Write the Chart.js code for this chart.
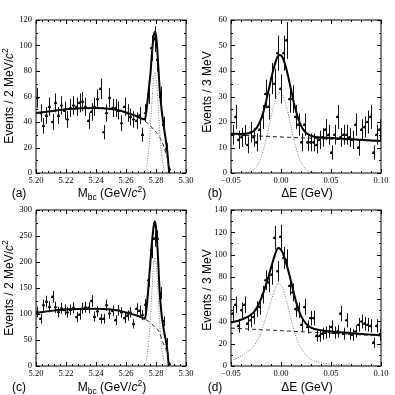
<!DOCTYPE html>
<html><head><meta charset="utf-8">
<script src="https://cdn.jsdelivr.net/npm/chart.js@4.4.0/dist/chart.umd.min.js"></script>
<style>
html,body{margin:0;padding:0;background:#fff;}
#wrap{position:relative;width:395px;height:395px;overflow:hidden;background:#fff;}
canvas{position:absolute;left:0;top:0;}
.t{position:absolute;font-family:"Liberation Sans",Arial,sans-serif;font-size:12px;color:#000;white-space:nowrap;line-height:1;transform:translate(-50%,-50%);}
.r{transform:translate(-50%,-50%) rotate(-90deg);}
.sub{font-size:8.5px;position:relative;top:3px;}
.sup{font-size:8.5px;position:relative;top:-5px;}
</style></head><body>
<div id="wrap">
<canvas id="ca" width="395" height="395"></canvas>
<canvas id="cb" width="395" height="395"></canvas>
<canvas id="cc" width="395" height="395"></canvas>
<canvas id="cd" width="395" height="395"></canvas>
<div class="t" style="left:19px;top:193px">(a)</div>
<div class="t" style="left:112px;top:193px">M<span class="sub">bc</span> (GeV/<i>c</i><span class="sup">2</span>)</div>
<div class="t r" style="left:9px;top:96px">Events / 2 MeV/<i>c</i><span class="sup">2</span></div>
<div class="t" style="left:215px;top:193px">(b)</div>
<div class="t" style="left:307px;top:193px">ΔE (GeV)</div>
<div class="t r" style="left:207px;top:92px">Events / 3 MeV</div>
<div class="t" style="left:19px;top:387px">(c)</div>
<div class="t" style="left:112px;top:387px">M<span class="sub">bc</span> (GeV/<i>c</i><span class="sup">2</span>)</div>
<div class="t r" style="left:9px;top:288px">Events / 2 MeV/<i>c</i><span class="sup">2</span></div>
<div class="t" style="left:215px;top:387px">(d)</div>
<div class="t" style="left:307px;top:387px">ΔE (GeV)</div>
<div class="t r" style="left:207px;top:290px">Events / 3 MeV</div>
</div>
<script>
// ---------- categories / bins ----------
const mbcBins = [5.201,5.203,5.205,5.207,5.209,5.211,5.213,5.215,5.217,5.219,5.221,5.223,5.225,5.227,5.229,5.231,5.233,5.235,5.237,5.239,5.241,5.243,5.245,5.247,5.249,5.251,5.253,5.255,5.257,5.259,5.261,5.263,5.265,5.267,5.269,5.271,5.273,5.275,5.277,5.279,5.281,5.283,5.285,5.287,5.289];
const deBins = [-0.0485,-0.0455,-0.0425,-0.0395,-0.0365,-0.0335,-0.0305,-0.0275,-0.0245,-0.0215,-0.0185,-0.0155,-0.0125,-0.0095,-0.0065,-0.0035,-0.0005,0.0025,0.0055,0.0085,0.0115,0.0145,0.0175,0.0205,0.0235,0.0265,0.0295,0.0325,0.0355,0.0385,0.0415,0.0445,0.0475,0.0505,0.0535,0.0565,0.0595,0.0625,0.0655,0.0685,0.0715,0.0745,0.0775,0.0805,0.0835,0.0865,0.0895,0.0925,0.0955,0.0985];

// ---------- panel (a) ----------
const countsA = [59,47,37,45,52,40,55,45,53,49,42,51,53,52,55,56,52,41,48,52,58,66,32,47,59,51,51,49,39,52,47,44,42,41,45,30,47,62,98,105,89,60,38,19,3];
const errA = [7.7,6.9,6.1,6.7,7.2,6.3,7.4,6.7,7.3,7.0,6.5,7.1,7.3,7.2,7.4,7.5,7.2,6.4,6.9,7.2,7.6,8.1,5.7,6.9,7.7,7.1,7.1,7.0,6.2,7.2,6.9,6.6,6.5,6.4,6.7,5.5,6.9,7.9,9.9,10.2,9.4,7.7,6.2,4.4,1.7];
const fitAx = [5.200,5.210,5.220,5.230,5.240,5.250,5.255,5.260,5.265,5.270,5.2727,5.2737,5.2747,5.2755,5.2763,5.2773,5.2781,5.2788,5.2794,5.2800,5.2807,5.2815,5.2827,5.2838,5.2849,5.2860,5.2871,5.2880,5.2888];
const fitAy = [47,48.5,50,50.8,51,50.2,49.2,47.5,45.5,43,42,50,60,69,78,94,104,109.5,111,108,100,84,62,49,39,30,21,11,0];
const bkgAx = [5.200,5.210,5.220,5.230,5.240,5.250,5.260,5.265,5.270,5.275,5.2785,5.282,5.2845,5.2865,5.2878,5.2885,5.2889];
const bkgAy = [47,48.5,50,50.8,51,50.2,47.5,45.5,42.5,38.5,34,29,23,16,10,5,0];
const sigAx = [5.2713,5.2733,5.2743,5.2753,5.2763,5.2773,5.2783,5.2793,5.2803,5.2813,5.2823,5.2833,5.2843,5.2853,5.2873];
const sigAy = [0.3,3.5,9,20,36,55,73,79,73,55,36,20,9,3.5,0.3];

// ---------- panel (c) ----------
const countsC = [104,91,117,124,114,133,113,104,111,108,103,108,112,94,99,111,113,112,125,95,105,91,91,117,101,106,88,107,103,92,97,103,81,110,106,98,118,165,222,245,245,140,86,47,4];
const errC = [10.2,9.5,10.8,11.1,10.7,11.5,10.6,10.2,10.5,10.4,10.1,10.4,10.6,9.7,9.9,10.5,10.6,10.6,11.2,9.7,10.2,9.5,9.5,10.8,10.0,10.3,9.4,10.3,10.1,9.6,9.8,10.1,9.0,10.5,10.3,9.9,10.9,12.8,14.9,15.7,15.7,11.8,9.3,6.9,2.0];
const fitCx = [5.200,5.210,5.220,5.230,5.240,5.250,5.255,5.260,5.265,5.270,5.2727,5.2737,5.2747,5.2755,5.2764,5.2772,5.2780,5.2786,5.2791,5.2797,5.2804,5.2814,5.2824,5.2835,5.2847,5.2858,5.2869,5.2878,5.2885];
const fitCy = [102,106,108.5,109.5,110,108.5,106.5,103,99,94,91,112,142,172,205,235,258,272,278,273,255,205,145,105,78,60,44,24,0];
const bkgCx = [5.200,5.210,5.220,5.230,5.240,5.250,5.260,5.265,5.270,5.275,5.2785,5.282,5.2845,5.2865,5.2878,5.2885,5.2889];
const bkgCy = [102,106,108.5,109.5,110,108.5,103,99,94,86,77,66,46,33,20,11,0];
const sigCx = [5.2713,5.2733,5.2743,5.2753,5.2763,5.2773,5.2783,5.2793,5.2803,5.2813,5.2823,5.2833,5.2843,5.2853,5.2873];
const sigCy = [0.8,9,24,52,95,145,192,208,192,145,95,52,24,9,0.8];

// ---------- panel (b) ----------
const countsB = [15,22,13,14,15,11,16,14,12,17,22,31,26,37,35,47,33,47,52,29,29,22,19,12,19,12,12,12,11,13,14,17,15,8,15,22,14,15,15,14,13,19,10,17,18,20,22,8,15,17];
const errB = [3.9,4.7,3.6,3.7,3.9,3.3,4.0,3.7,3.5,4.1,4.7,5.6,5.1,6.1,5.9,6.9,5.7,6.9,7.2,5.4,5.4,4.7,4.4,3.5,4.4,3.5,3.5,3.5,3.3,3.6,3.7,4.1,3.9,2.8,3.9,4.7,3.7,3.9,3.9,3.7,3.6,4.4,3.2,4.1,4.2,4.5,4.7,2.8,3.9,4.1];
const fitBx = [-0.050,-0.040,-0.032,-0.028,-0.024,-0.020,-0.016,-0.012,-0.008,-0.004,-0.001,0.002,0.006,0.010,0.014,0.018,0.022,0.026,0.030,0.035,0.050,0.075,0.100];
const fitBy = [15.4,15.3,15.6,16.3,17.9,21.1,26.3,33.1,40.0,45.1,46.3,45.0,39.8,32.7,25.7,20.5,17.2,15.4,14.6,14.1,13.7,13.1,12.5];
const bkgBx = [-0.050,0.100];
const bkgBy = [15.0,12.4];
const sigBx = [-0.045,-0.036,-0.032,-0.028,-0.024,-0.020,-0.016,-0.012,-0.008,-0.004,-0.001,0.002,0.006,0.010,0.014,0.018,0.022,0.026,0.030,0.034,0.043];
const sigBy = [0,0.1,0.4,1.1,2.85,6.1,11.3,18.2,25.2,30.3,31.5,30.3,25.2,18.2,11.3,6.1,2.85,1.1,0.4,0.1,0];

// ---------- panel (d) ----------
const countsD = [47,55,36,50,55,38,41,44,51,53,64,77,75,82,115,85,116,97,95,72,66,51,50,37,53,35,43,43,27,27,29,30,31,35,30,31,47,29,41,29,28,31,37,40,38,37,36,21,36,28];
const errD = [6.9,7.4,6.0,7.1,7.4,6.2,6.4,6.6,7.1,7.3,8.0,8.8,8.7,9.1,10.7,9.2,10.8,9.8,9.7,8.5,8.1,7.1,7.1,6.1,7.3,5.9,6.6,6.6,5.2,5.2,5.4,5.5,5.6,5.9,5.5,5.6,6.9,5.4,6.4,5.4,5.3,5.6,6.1,6.3,6.2,6.1,6.0,4.6,6.0,5.3];
const fitDx = [-0.050,-0.040,-0.030,-0.025,-0.020,-0.015,-0.010,-0.006,-0.0027,0.001,0.005,0.010,0.015,0.020,0.025,0.030,0.040,0.050,0.070,0.100];
const fitDy = [39,41.5,46,51,60,73,88,100,106,103,93,76,58,45,38,34.5,32,31,29.5,27.5];
const bkgDx = [-0.050,0.100];
const bkgDy = [34,27];
const sigDx = [-0.050,-0.045,-0.040,-0.035,-0.030,-0.025,-0.020,-0.015,-0.010,-0.006,-0.0027,0.001,0.005,0.010,0.015,0.020,0.025,0.030,0.040,0.050,0.060,0.080,0.100];
const sigDy = [5,6.5,9,12,15,21,30,44,58,69,74,71,60,42,26,16,10,6,3,1.8,1.2,0.5,0.2];

// ---------- tick labels ----------
const xTicksMbc = [5.20,5.22,5.24,5.26,5.28,5.30];
const xTicksDE = [-0.05,0.00,0.05,0.10];
const yTicksA = [0,20,40,60,80,100,120];
const yTicksB = [0,10,20,30,40,50,60];
const yTicksC = [0,50,100,150,200,250,300];
const yTicksD = [0,20,40,60,80,100,120,140];

function pts(xs, ys){ return xs.map((x,i)=>({x:x, y:ys[i]})); }

const hepPlugin = {
  id:'hep',
  afterDatasetsDraw(chart, args, o){
    const ctx = chart.ctx, a = chart.chartArea, sx = chart.scales.x, sy = chart.scales.y;
    const R = v => Math.round(v) + 0.5;
    ctx.save();
    ctx.beginPath(); ctx.rect(a.left, a.top, a.right-a.left, a.bottom-a.top); ctx.clip();
    ctx.strokeStyle = '#111'; ctx.lineWidth = 1;
    ctx.beginPath();
    o.bins.forEach((b,i)=>{
      const v = o.counts[i], e = o.errs[i];
      const px = R(sx.getPixelForValue(b));
      const py = R(sy.getPixelForValue(v));
      ctx.moveTo(px, sy.getPixelForValue(v+e)); ctx.lineTo(px, sy.getPixelForValue(v-e));
      ctx.moveTo(sx.getPixelForValue(b-o.half), py); ctx.lineTo(sx.getPixelForValue(b+o.half), py);
    });
    ctx.stroke();
    ctx.restore();
    // frame and inward ticks on four sides
    ctx.save();
    ctx.strokeStyle = '#000'; ctx.lineWidth = 1;
    const L = R(a.left)-0.5, Rt = R(a.right)-0.5, T = R(a.top)-0.5, B = R(a.bottom)-0.5;
    ctx.strokeRect(L, T, Rt-L, B-T);
    ctx.beginPath();
    const drawX = (v, len) => { const p = R(sx.getPixelForValue(v)); ctx.moveTo(p, B); ctx.lineTo(p, B-len); ctx.moveTo(p, T); ctx.lineTo(p, T+len); };
    const drawY = (v, len) => { const p = R(sy.getPixelForValue(v)); ctx.moveTo(L, p); ctx.lineTo(L+len, p); ctx.moveTo(Rt, p); ctx.lineTo(Rt-len, p); };
    const nx = Math.round((sx.max - sx.min)/o.xMinor);
    for (let k=0;k<=nx;k++) drawX(sx.min + k*o.xMinor, 2);
    const ny = Math.round((sy.max - sy.min)/o.yMinor);
    for (let k=0;k<=ny;k++) drawY(sy.min + k*o.yMinor, 2);
    o.xMajor.forEach(v=>drawX(v,4));
    o.yMajor.forEach(v=>drawY(v,4));
    ctx.stroke();
    ctx.restore();
  }
};

const tickFont = {family:'"Liberation Serif","Times New Roman",serif', size:8.5};

function makeChart(id, c){
  return new Chart(document.getElementById(id), {
    type:'scatter',
    data:{datasets:[
      {type:'line', data:pts(c.sigX,c.sigY), borderColor:'#7a7a7a', borderWidth:1, borderDash:[1,1.5], pointRadius:0, cubicInterpolationMode:'monotone', fill:false},
      {type:'line', data:pts(c.bkgX,c.bkgY), borderColor:'#222', borderWidth:1, borderDash:[4,3], pointRadius:0, cubicInterpolationMode:'monotone', fill:false},
      {type:'line', data:pts(c.fitX,c.fitY), borderColor:'#000', borderWidth:2, pointRadius:0, cubicInterpolationMode:'monotone', fill:false},
      {type:'scatter', data:pts(c.bins,c.counts), backgroundColor:'#000', borderColor:'#000', borderWidth:0, pointRadius:1.3}
    ]},
    options:{
      responsive:false, animation:false, devicePixelRatio:1,
      layout:{padding:c.pad},
      plugins:{legend:{display:false}, tooltip:{enabled:false},
        hep:{bins:c.bins, counts:c.counts, errs:c.errs, half:c.half, xMajor:c.xTicks, yMajor:c.yTicks, xMinor:c.xMinor, yMinor:c.yMinor}},
      scales:{
        x:{type:'linear', min:c.xTicks[0], max:c.xTicks[c.xTicks.length-1],
           grid:{display:false, drawTicks:false}, border:{display:false},
           afterBuildTicks:s=>{ s.ticks = c.xTicks.map(v=>({value:v})); },
           afterFit:s=>{ s.height = 14; s.paddingLeft = 0; s.paddingRight = 0; },
           ticks:{autoSkip:false, maxRotation:0, padding:3, color:'#000', font:tickFont,
             callback:v=>{ const t = Math.abs(v) < 1e-9 ? '0.00' : v.toFixed(2); return t.replace('-', '\u2212'); }}},
        y:{type:'linear', min:c.yTicks[0], max:c.yTicks[c.yTicks.length-1],
           grid:{display:false, drawTicks:false}, border:{display:false},
           afterBuildTicks:s=>{ s.ticks = c.yTicks.map(v=>({value:v})); },
           afterFit:s=>{ s.width = 30; s.paddingTop = 0; s.paddingBottom = 0; },
           ticks:{autoSkip:false, padding:4, color:'#000', font:tickFont, callback:v=>String(Math.round(v))}}
      }
    },
    plugins:[hepPlugin]
  });
}

makeChart('ca', {bins:mbcBins, counts:countsA, errs:errA, half:0.001, fitX:fitAx, fitY:fitAy, bkgX:bkgAx, bkgY:bkgAy, sigX:sigAx, sigY:sigAy,
  xTicks:xTicksMbc, yTicks:yTicksA, xMinor:0.004, yMinor:10, pad:{left:6, top:20, right:209, bottom:208}});
makeChart('cb', {bins:deBins, counts:countsB, errs:errB, half:0.0015, fitX:fitBx, fitY:fitBy, bkgX:bkgBx, bkgY:bkgBy, sigX:sigBx, sigY:sigBy,
  xTicks:xTicksDE, yTicks:yTicksB, xMinor:0.01, yMinor:5, pad:{left:201, top:20, right:14, bottom:208}});
makeChart('cc', {bins:mbcBins, counts:countsC, errs:errC, half:0.001, fitX:fitCx, fitY:fitCy, bkgX:bkgCx, bkgY:bkgCy, sigX:sigCx, sigY:sigCy,
  xTicks:xTicksMbc, yTicks:yTicksC, xMinor:0.004, yMinor:25, pad:{left:6, top:210, right:209, bottom:15}});
makeChart('cd', {bins:deBins, counts:countsD, errs:errD, half:0.0015, fitX:fitDx, fitY:fitDy, bkgX:bkgDx, bkgY:bkgDy, sigX:sigDx, sigY:sigDy,
  xTicks:xTicksDE, yTicks:yTicksD, xMinor:0.01, yMinor:10, pad:{left:201, top:210, right:14, bottom:15}});
</script>
</body></html>
